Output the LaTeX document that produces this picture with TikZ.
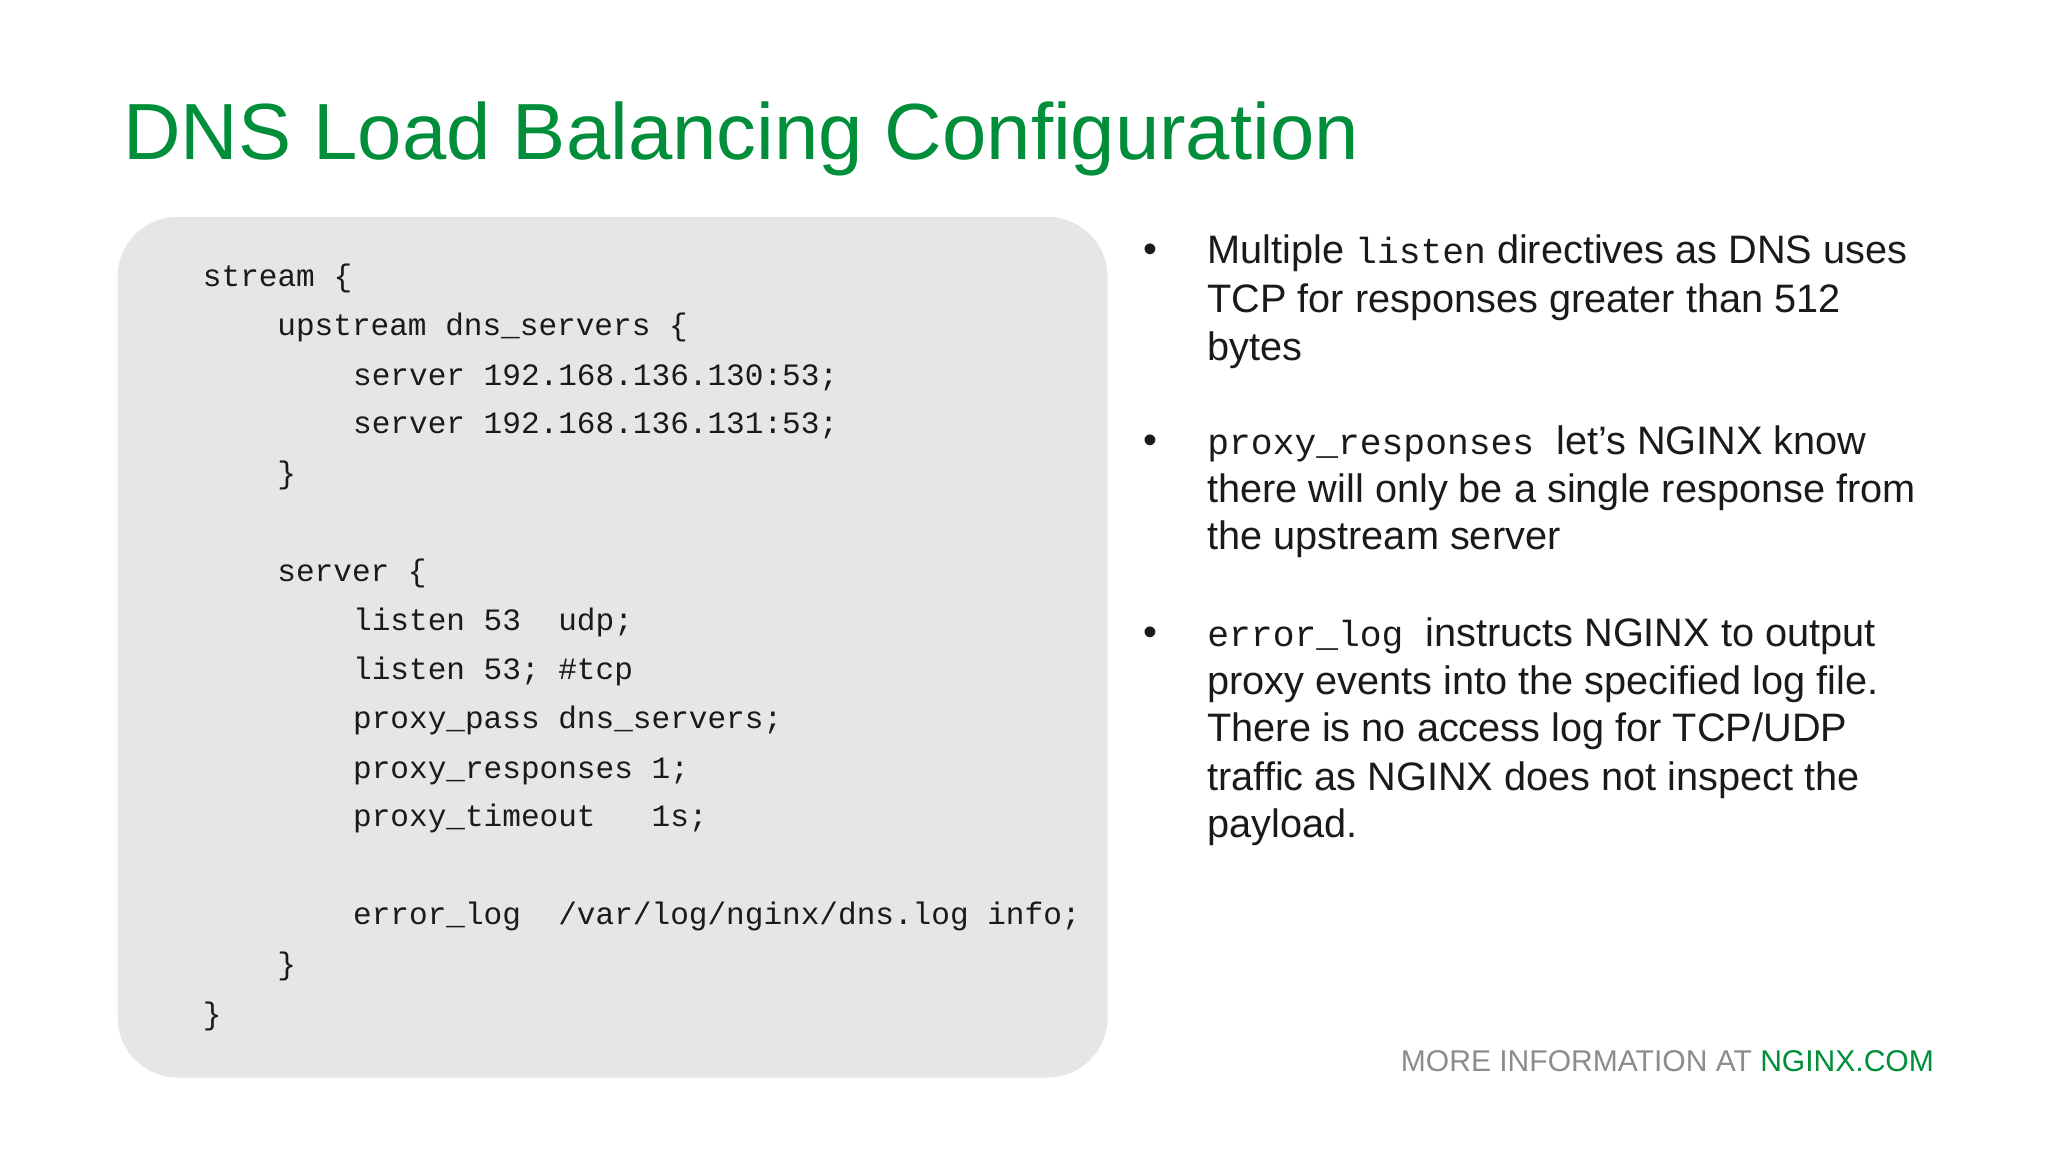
\documentclass[tikz,border=0pt]{standalone}
\usepackage{fontspec}
\setmainfont{Liberation Sans}
\setmonofont{Liberation Mono}
\definecolor{ngreen}{HTML}{008E3A}
\definecolor{boxgray}{HTML}{E6E6E6}
\definecolor{footgray}{HTML}{8C8C8C}
\definecolor{txt}{HTML}{1A1A1A}
\newcommand{\bmono}{\fontsize{13.9}{14}\ttfamily}
\begin{document}
\begin{tikzpicture}[x=0.5pt,y=-0.5pt,
  code/.style={anchor=base west,inner sep=0,font=\fontsize{11.9}{14}\ttfamily,text=txt},
  btxt/.style={anchor=base west,inner sep=0,font=\fontsize{15.2}{18}\selectfont,text=txt}]
\useasboundingbox (0,0) rectangle (1568,882);
\node[anchor=base west,inner sep=0,text=ngreen,font=\fontsize{30.5}{36}\selectfont] (title) at (94,122) {DNS Load Balancing Configuration};
\fill[boxgray,rounded corners=23pt] (90,166) rectangle (848,825);
\node[code] (c1) at (155,219) {stream \{};
\node[code] (c2) at (212,257) {upstream dns\_servers \{};
\node[code] (c3) at (270,295) {server 192.168.136.130:53;};
\node[code] (c4) at (270,332) {server 192.168.136.131:53;};
\node[code] (c5) at (212,370) {\}};
\node[code] (c6) at (212,445) {server \{};
\node[code] (c7) at (270,483) {listen 53\ \ udp;};
\node[code] (c8) at (270,520) {listen 53; \#tcp};
\node[code] (c9) at (270,558) {proxy\_pass dns\_servers;};
\node[code] (c10) at (270,596) {proxy\_responses 1;};
\node[code] (c11) at (270,633) {proxy\_timeout\ \ \ 1s;};
\node[code] (c12) at (270,708) {error\_log\ \ /var/log/nginx/dns.log info;};
\node[code] (c13) at (212,746) {\}};
\node[code] (c14) at (155,784) {\}};
\foreach \y/\n in {201/b1,347/b2,494/b3}{\node[btxt] (\n) at (875,\y) {•};}
\node[btxt] (l1) at (924,202) {Multiple {\bmono listen} directives as DNS uses};
\node[btxt] (l2) at (924,239) {TCP for responses greater than 512};
\node[btxt] (l3) at (924,276) {bytes};
\node[btxt] (l4) at (924,348) {{\bmono proxy\_responses}\ \ let’s NGINX know};
\node[btxt] (l5) at (924,385) {there will only be a single response from};
\node[btxt] (l6) at (924,421) {the upstream server};
\node[btxt] (l7) at (924,495) {{\bmono error\_log}\ \ instructs NGINX to output};
\node[btxt] (l8) at (924,532) {proxy events into the specified log file.};
\node[btxt] (l9) at (924,568) {There is no access log for TCP/UDP};
\node[btxt] (l10) at (924,605) {traffic as NGINX does not inspect the};
\node[btxt] (l11) at (924,641) {payload.};
\node[anchor=base east,inner sep=0,font=\fontsize{11.5}{13}\selectfont] (foot) at (1481,820) {\textcolor{footgray}{MORE INFORMATION AT} \textcolor{ngreen}{NGINX.COM}};
\end{tikzpicture}
\end{document}
